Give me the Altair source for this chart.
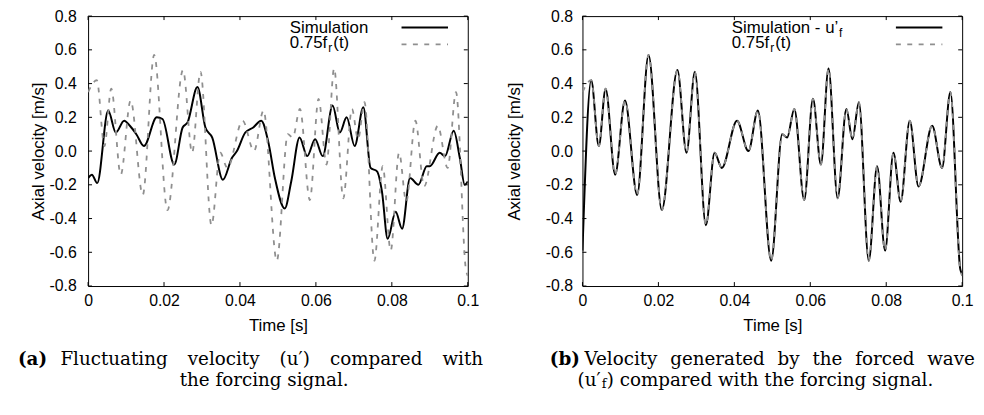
import altair as alt
import pandas as pd

# ---- data ----
x_ticks = [0, 0.02, 0.04, 0.06, 0.08, 0.1]
y_ticks = [-0.8, -0.6, -0.4, -0.2, 0, 0.2, 0.4, 0.6, 0.8]

# forcing signal 0.75 f_r(t)
time_fr = [0, 0.0023, 0.0043, 0.0061, 0.0086, 0.0112, 0.0144, 0.0174, 0.0209, 0.0250,
           0.0274, 0.0296, 0.0325, 0.0348, 0.0367, 0.0407, 0.0437, 0.0462, 0.0497, 0.0526,
           0.0539, 0.0558, 0.0584, 0.0607, 0.0628, 0.0648, 0.0672, 0.0695, 0.0711, 0.0728,
           0.0754, 0.0776, 0.0797, 0.0819, 0.0838, 0.0862, 0.0885, 0.0921, 0.0947, 0.0969,
           0.0995, 0.1]
forcing = [0.35, 0.42, 0.03, 0.37, -0.14, 0.30, -0.26, 0.57, -0.35, 0.48,
           -0.01, 0.47, -0.44, -0.01, -0.10, 0.18, 0.00, 0.24, -0.65, 0.10,
           0.08, 0.25, -0.29, 0.31, -0.08, 0.49, -0.28, 0.25, 0.07, 0.29,
           -0.65, -0.09, -0.59, -0.01, -0.30, 0.18, -0.21, 0.15, -0.10, 0.35,
           -0.70, -0.74]

# simulation u'_f (panel b)
sim_forced = [-0.59, 0.42, 0.03, 0.37, -0.14, 0.30, -0.26, 0.57, -0.35, 0.48,
              -0.01, 0.47, -0.44, -0.01, -0.10, 0.18, 0.00, 0.24, -0.65, 0.10,
              0.08, 0.25, -0.29, 0.31, -0.08, 0.49, -0.28, 0.25, 0.07, 0.29,
              -0.65, -0.09, -0.59, -0.01, -0.30, 0.18, -0.21, 0.15, -0.10, 0.35,
              -0.70, -0.73]

# simulation u' (panel a)
time_sim = [0, 0.001, 0.0024, 0.0053, 0.0073, 0.0095, 0.0110, 0.0127, 0.0147, 0.0181,
            0.0196, 0.0227, 0.0249, 0.0262, 0.0288, 0.0309, 0.0327, 0.0355, 0.0379, 0.0392,
            0.0414, 0.0435, 0.0456, 0.0475, 0.0492, 0.0518, 0.0535, 0.0557, 0.0577, 0.0598,
            0.0618, 0.0644, 0.0663, 0.0681, 0.0702, 0.0725, 0.0744, 0.0761, 0.0774, 0.0789,
            0.0810, 0.0827, 0.0848, 0.0870, 0.0892, 0.0900, 0.0926, 0.0940, 0.0963, 0.0979,
            0.0992, 0.1]
sim_fluct = [-0.16, -0.14, -0.19, 0.24, 0.11, 0.18, 0.15, 0.10, 0.03, 0.20,
             0.19, -0.08, 0.14, 0.17, 0.38, 0.14, 0.08, -0.17, -0.04, 0.00,
             0.11, 0.14, 0.18, 0.05, -0.16, -0.34, -0.18, 0.08, -0.03, 0.07,
             -0.03, 0.27, 0.11, 0.20, 0.03, 0.26, -0.10, -0.12, -0.24, -0.52,
             -0.36, -0.46, -0.16, -0.20, -0.09, -0.09, -0.01, -0.03, 0.12, -0.04,
             -0.20, -0.18]

# ---- layout constants ----
W, H = 384, 273
SANS = "Liberation Sans"
SERIF = "DejaVu Serif"
CAP = 18.5
TICK = 4
GRAY = "#8f8f8f"
DASH = [5, 6.5]

x_scale = alt.Scale(domain=[0, 0.1], nice=False, zero=False)
y_scale = alt.Scale(domain=[-0.8, 0.8], nice=False, zero=False)

x_axis = alt.Axis(values=x_ticks, format="~g", ticks=False, domain=False, grid=False,
                  labelFlush=False, labelOverlap=False, labelPadding=7, titlePadding=9)


def y_axis(title_pad, label_pad):
    return alt.Axis(values=y_ticks, ticks=False, domain=False, grid=False,
                    labelFlush=False, labelOverlap=False,
                    labelExpr="replace(datum.label, '\u2212', '-')",
                    labelPadding=label_pad, titlePadding=title_pad)


EMPTY = alt.Data(values=[{}])


def txt(s, x, y, size=17, font=SANS, weight="normal", align="left"):
    return alt.Chart(EMPTY).mark_text(
        text=s, align=align, baseline="middle", font=font, fontSize=size,
        fontWeight=weight, color="black"
    ).encode(x=alt.value(x), y=alt.value(y))


def seg(x1, x2, y, color, dash=None, width=2):
    kw = dict(color=color, strokeWidth=width)
    if dash:
        kw["strokeDash"] = dash
    return alt.Chart(EMPTY).mark_rule(**kw).encode(
        x=alt.value(x1), x2=alt.value(x2), y=alt.value(y))


def panel(sim_t, sim_v, yax, legend_layers, caption_layers):
    X = lambda: alt.X("t:Q", scale=x_scale, axis=x_axis, title="Time [s]")
    Y = lambda: alt.Y("v:Q", scale=y_scale, axis=yax, title="Axial velocity [m/s]")
    xt = pd.DataFrame({"t": x_ticks})
    yt = pd.DataFrame({"v": y_ticks})
    ticks = [
        alt.Chart(xt).mark_rule(color="black", strokeWidth=1).encode(
            x=X(), y=alt.value(H), y2=alt.value(H - TICK)),
        alt.Chart(xt).mark_rule(color="black", strokeWidth=1).encode(
            x=X(), y=alt.value(0), y2=alt.value(TICK)),
        alt.Chart(yt).mark_rule(color="black", strokeWidth=1).encode(
            y=Y(), x=alt.value(0), x2=alt.value(TICK)),
        alt.Chart(yt).mark_rule(color="black", strokeWidth=1).encode(
            y=Y(), x=alt.value(W - TICK), x2=alt.value(W)),
    ]
    sim = alt.Chart(pd.DataFrame({"t": sim_t, "v": sim_v})).mark_line(
        color="black", strokeWidth=2, interpolate="monotone", clip=True
    ).encode(x=X(), y=Y())
    fr = alt.Chart(pd.DataFrame({"t": time_fr, "v": forcing})).mark_line(
        color=GRAY, strokeWidth=1.8, strokeDash=DASH, interpolate="monotone", clip=True
    ).encode(x=X(), y=Y())
    return alt.layer(*ticks, sim, fr, *legend_layers, *caption_layers).properties(
        width=W, height=H)


# legend pieces (plot coordinates)
leg_a = [
    txt("Simulation", 204, 12),
    seg(317, 364, 11.5, "black", width=2),
    txt("0.75f", 204, 27.5),
    txt("r", 243, 32.5, size=12),
    txt("(t)", 248, 27.5),
    seg(317, 364, 28.5, GRAY, dash=DASH, width=1.8),
]
leg_b = [
    txt("Simulation - u\u2019", 151, 12),
    txt("f", 259.5, 17, size=12),
    seg(317, 364, 11.5, "black", width=2),
    txt("0.75f", 151, 27.5),
    txt("r", 190, 32.5, size=12),
    txt("(t)", 195, 27.5),
    seg(317, 364, 28.5, GRAY, dash=DASH, width=1.8),
]

EM = "\u2003\u200a"      # stretched (justified) word gap, line 1 of (a)
EN = "\u2002\u2009"      # stretched word gap, line 1 of (b)

cap_a = [
    txt("(a)", -71, 347, size=CAP, font=SERIF, weight="bold"),
    txt(EM.join(["Fluctuating", "velocity", "(u\u2032)", "compared", "with"]),
        -28, 347, size=CAP, font=SERIF),
    txt("the forcing signal.", 178, 368, size=CAP, font=SERIF, align="center"),
]
cap_b = [
    txt("(b)", -33, 347, size=CAP, font=SERIF, weight="bold"),
    txt(EN.join(["Velocity", "generated", "by", "the", "forced", "wave"]),
        2, 347, size=CAP, font=SERIF),
    txt("(u\u2032", -5, 368, size=CAP, font=SERIF),
    txt("f", 19.5, 372.5, size=13, font=SERIF),
    txt(") compared with the forcing signal.", 24.5, 368, size=CAP, font=SERIF),
]

pa = panel(time_sim, sim_fluct, y_axis(2, 12), leg_a, cap_a)
pb = panel(time_fr, sim_forced, y_axis(22, 10), leg_b, cap_b)

chart = alt.hconcat(pa, pb, spacing=116, bounds="flush").properties(
    padding={"left": 9, "top": -3, "right": 0, "bottom": 0}
).configure_view(stroke="black", strokeWidth=1).configure_axis(
    labelFont=SANS, labelFontSize=16, labelColor="black",
    titleFont=SANS, titleFontSize=17, titleFontWeight="normal", titleColor="black"
)

chart.save("out.html", embed_options={"renderer": "svg", "actions": False})
